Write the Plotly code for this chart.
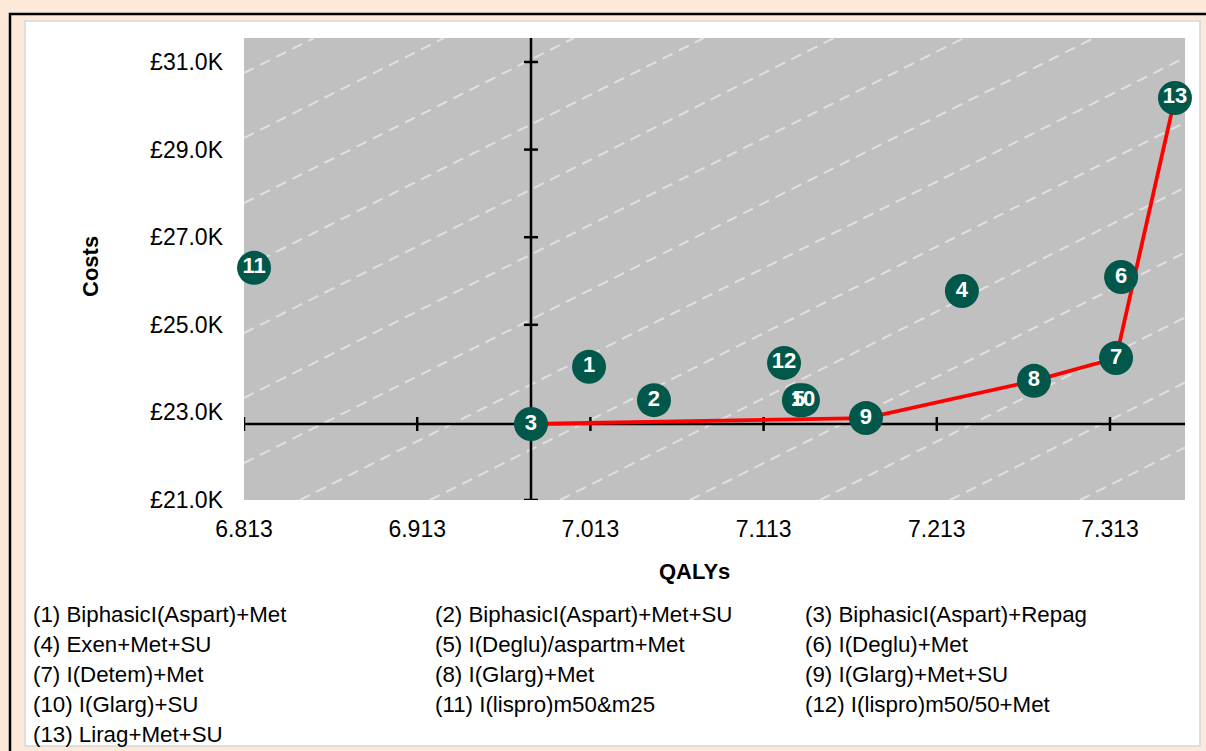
import plotly.graph_objects as go

# strategies (number, name) and their results
names=["BiphasicI(Aspart)+Met","BiphasicI(Aspart)+Met+SU","BiphasicI(Aspart)+Repag",
       "Exen+Met+SU","I(Deglu)/aspartm+Met","I(Deglu)+Met","I(Detem)+Met",
       "I(Glarg)+Met","I(Glarg)+Met+SU","I(Glarg)+SU","I(lispro)m50&m25",
       "I(lispro)m50/50+Met","Lirag+Met+SU"]
qalys=[7.0122,7.0497,6.9787,7.2275,7.1334,7.3194,7.3165,7.2691,7.1721,7.1357,6.8188,7.1248,7.3505]
costs=[24040,23280,22735,25770,23280,26090,24240,23720,22870,23280,26300,24130,30180]
frontier=[3,9,8,7,13]
x_ticks=[6.813,6.913,7.013,7.113,7.213,7.313]
y_ticks=[21000,23000,25000,27000,29000,31000]
ref=3

x_range=[6.813,7.3563]
y_range=[21000,31548]

# plot area in pixels
L,R,T,B=244,1185,38,500
W,H=R-L,B-T
def px(X):
    return (X-L)/W
def py(Y):
    return (B-Y)/H

FONT="Arial, Liberation Sans, sans-serif"
nums=[str(i+1) for i in range(len(names))]

fig=go.Figure()
fig.add_trace(go.Scatter(x=[qalys[i-1] for i in frontier],y=[costs[i-1] for i in frontier],
    mode="lines",line=dict(color="#ff0000",width=3.8),hoverinfo="skip",showlegend=False))
fig.add_trace(go.Scatter(x=qalys,y=costs,mode="markers+text",text=nums,textposition="middle center",
    marker=dict(size=34,color="#02574b",line=dict(width=0)),cliponaxis=False,
    textfont=dict(family=FONT,size=22,color="white",weight="bold"),
    hovertext=names,showlegend=False))

shapes=[]
# outer black frame and white panel
shapes.append(dict(type="rect",xref="paper",yref="paper",x0=px(10),x1=px(1240),y0=py(790),y1=py(14),
    line=dict(color="black",width=2.5),fillcolor="rgba(0,0,0,0)",layer="below"))
shapes.append(dict(type="rect",xref="paper",yref="paper",x0=px(25),x1=px(1200),y0=py(746),y1=py(21),
    line=dict(color="#d6d6d6",width=1.5),fillcolor="white",layer="below"))
# gray plot area
shapes.append(dict(type="rect",xref="x domain",yref="y domain",x0=0,x1=1,y0=0,y1=1,
    line=dict(width=0),fillcolor="#c0c0c0",layer="below"))
# diagonal dashed background lines (pixel slope 0.5)
c=37-65*12
while c<H:
    pts=[]
    for xx in (0,W):
        yy=0.5*xx+c
        if 0<=yy<=H: pts.append((xx,yy))
    for yy in (0,H):
        xx=(yy-c)/0.5
        if 0<xx<W: pts.append((xx,yy))
    if len(pts)>=2:
        pts.sort()
        (a0,b0),(a1,b1)=pts[0],pts[-1]
        shapes.append(dict(type="line",xref="x domain",yref="y domain",x0=a0/W,y0=b0/H,x1=a1/W,y1=b1/H,
            line=dict(color="rgba(255,255,255,0.5)",width=2,dash="11px,7px"),layer="below"))
    c+=65
# axes crossing at the reference strategy
cx,cy=qalys[ref-1],costs[ref-1]
shapes.append(dict(type="line",xref="x domain",yref="y",x0=0,x1=1,y0=cy,y1=cy,
    line=dict(color="black",width=2.5),layer="below"))
shapes.append(dict(type="line",xref="x",yref="y domain",x0=cx,x1=cx,y0=0,y1=1,
    line=dict(color="black",width=2.5),layer="below"))
for t in x_ticks:
    shapes.append(dict(type="line",xref="x",yref="y",ysizemode="pixel",yanchor=cy,x0=t,x1=t,y0=-7,y1=7,
        line=dict(color="black",width=2.5),layer="below"))
for t in y_ticks:
    shapes.append(dict(type="line",xref="x",yref="y",xsizemode="pixel",xanchor=cx,y0=t,y1=t,x0=-7,x1=7,
        line=dict(color="black",width=2.5),layer="below"))

annotations=[]
annotations.append(dict(text="<b>QALYs</b>",xref="paper",yref="paper",x=px(694),y=py(571),
    xanchor="center",yanchor="middle",showarrow=False,font=dict(family=FONT,size=22,color="black")))
annotations.append(dict(text="<b>Costs</b>",xref="paper",yref="paper",x=px(90),y=py(267),textangle=-90,
    xanchor="center",yanchor="middle",showarrow=False,font=dict(family=FONT,size=22,color="black")))
col_x=[31,433,803]
for i,n in enumerate(names):
    r,cc=divmod(i,3)
    annotations.append(dict(text="(%d) %s"%(i+1,n),xref="paper",yref="paper",x=px(col_x[cc]),y=py(614+30.2*r),
        xanchor="left",yanchor="middle",showarrow=False,font=dict(family=FONT,size=22.3,color="black")))

fig.update_layout(
    width=1206,height=751,
    margin=dict(l=L,r=1206-R,t=T,b=751-B),
    paper_bgcolor="#fde9d9",plot_bgcolor="rgba(0,0,0,0)",
    shapes=shapes,annotations=annotations,
    xaxis=dict(range=x_range,tickvals=x_ticks,ticktext=["%.3f"%t for t in x_ticks],showgrid=False,
        zeroline=False,showline=False,ticks="",ticklabelstandoff=13,
        tickfont=dict(family=FONT,size=23,color="black")),
    yaxis=dict(range=y_range,tickvals=y_ticks,ticktext=["£%.1fK"%(t/1000) for t in y_ticks],showgrid=False,
        zeroline=False,showline=False,ticks="",ticklabelstandoff=20,
        tickfont=dict(family=FONT,size=23,color="black")),
)
fig.write_html("out.html",config={"displayModeBar":False},
    post_script="document.body.style.margin='0';document.body.style.background='#fde9d9';")
